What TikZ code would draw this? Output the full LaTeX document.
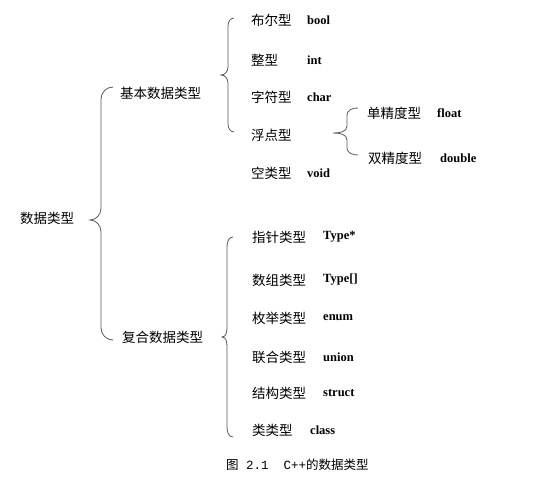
\documentclass[tikz,border=0pt]{standalone}
\usepackage{fontspec}
\setmainfont{Liberation Serif}
\newfontfamily\cjk{Noto Sans CJK SC}
\newfontfamily\kwfont{Liberation Serif}
\newfontfamily\monofnt{Liberation Mono}
\definecolor{bracegray}{gray}{0.35}
\tikzset{
  cn/.style={anchor=west,inner sep=0pt,font=\cjk\fontsize{13.5}{15}\selectfont},
  kw/.style={anchor=west,inner sep=0pt,font=\kwfont\bfseries\fontsize{12.5}{14}\selectfont},
  bracestyle/.style={draw=bracegray,line width=0.8pt}
}
% #1 vertical x, #2 top y, #3 bottom y, #4 tip y, #5 tip x, #6 end x, #7 radius
\newcommand\mybrace[7]{%
  \draw[bracestyle] (#6,#2) to[out=180,in=90] (#1,#2+#7) -- (#1,#4-#7)
    to[out=-90,in=0] (#5,#4) to[out=0,in=90] (#1,#4+#7) -- (#1,#3-#7)
    to[out=-90,in=180] (#6,#3);}
\begin{document}
\begin{tikzpicture}[x=1pt,y=-1pt]
\useasboundingbox[fill=white] (0,0) rectangle (554,482);
% level 0
\node[cn] (root) at (20,218) {数据类型};
\mybrace{101}{87}{340}{220}{90}{113}{12}
% level 1
\node[cn] (basic) at (120,93) {基本数据类型};
\node[cn] (comp) at (122,337) {复合数据类型};
\mybrace{228}{18}{132}{75}{221}{234}{8}
\mybrace{227}{237}{437}{337}{222}{233}{10}
% basic types
\node[cn] (b1) at (251,20) {布尔型};
\node[kw] (k1) at (307,20) {bool};
\node[cn] (b2) at (251,60) {整型};
\node[kw] (k2) at (307,60) {int};
\node[cn] (b3) at (251,97) {字符型};
\node[kw] (k3) at (307,97) {char};
\node[cn] (b4) at (251,135) {浮点型};
\node[cn] (b5) at (251,173) {空类型};
\node[kw] (k5) at (307,173) {void};
% float
\mybrace{347}{108}{155}{133}{333}{358}{7}
\node[cn] (f1) at (367,113) {单精度型};
\node[kw] (fk1) at (437,113) {float};
\node[cn] (f2) at (368,158) {双精度型};
\node[kw] (fk2) at (440,158) {double};
% compound types
\node[cn] (c1) at (252,237) {指针类型};
\node[kw] (ck1) at (323,237) {Type*};
\node[cn] (c2) at (252,280) {数组类型};
\node[kw] (ck2) at (323,280) {Type[]};
\node[cn] (c3) at (252,318) {枚举类型};
\node[kw] (ck3) at (323,318) {enum};
\node[cn] (c4) at (252,357) {联合类型};
\node[kw] (ck4) at (323,357) {union};
\node[cn] (c5) at (252,393) {结构类型};
\node[kw] (ck5) at (323,393) {struct};
\node[cn] (c6) at (252,430) {类类型};
\node[kw] (ck6) at (310,430) {class};
% caption
\node[anchor=west,inner sep=0pt,font=\fontsize{12.5}{14}\selectfont] (cap) at (226,465)
  {{\cjk 图}\monofnt\ 2.1\ \ C++{\cjk 的数据类型}};
\end{tikzpicture}
\end{document}
